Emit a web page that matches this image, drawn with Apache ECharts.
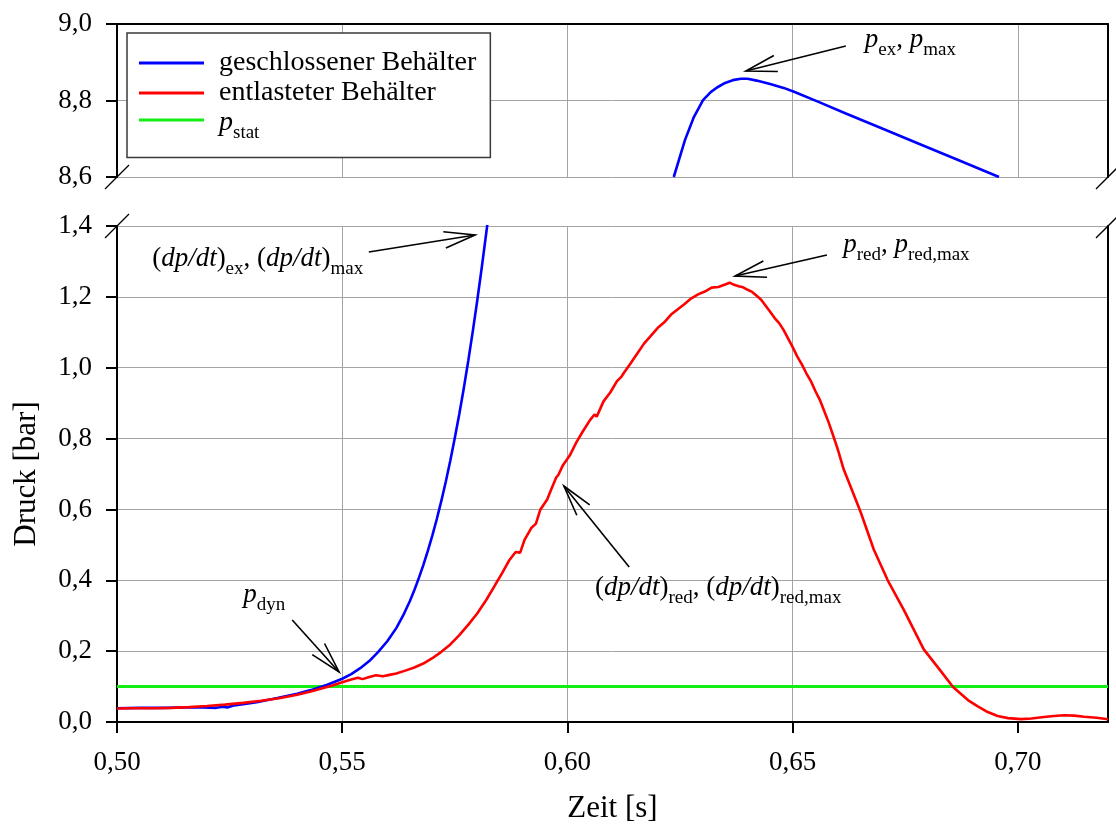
<!DOCTYPE html>
<html>
<head>
<meta charset="utf-8">
<script src="https://cdn.jsdelivr.net/npm/echarts@6/dist/echarts.min.js"></script>
<style>
  html, body { margin: 0; padding: 0; background: #fff; }
  #chart { width: 1116px; height: 825px; }
</style>
</head>
<body>
<div id="chart"></div>
<script>
// Druckverlauf: geschlossener vs. entlasteter Behälter (gebrochene Druckachse)

const timeTicks = [0.50, 0.55, 0.60, 0.65, 0.70];
const lowPressureTicks = [0.0, 0.2, 0.4, 0.6, 0.8, 1.0, 1.2, 1.4];
const highPressureTicks = [8.6, 8.8, 9.0];

// geschlossener Behälter, unterer Bereich (bis 1,4 bar)
const closedLow = [
  [0.500, 0.039], [0.505, 0.040], [0.510, 0.040], [0.515, 0.041], [0.519, 0.041],
  [0.522, 0.040], [0.5235, 0.043], [0.5245, 0.041], [0.526, 0.047], [0.528, 0.050],
  [0.531, 0.056], [0.5356, 0.068], [0.540, 0.080], [0.543, 0.090], [0.5467, 0.105],
  [0.550, 0.122], [0.552, 0.135], [0.554, 0.152], [0.556, 0.172], [0.558, 0.198],
  [0.560, 0.228], [0.562, 0.265], [0.5635, 0.300], [0.565, 0.341], [0.566, 0.372],
  [0.567, 0.406], [0.568, 0.443], [0.569, 0.483], [0.570, 0.526], [0.571, 0.573],
  [0.572, 0.624], [0.573, 0.679], [0.574, 0.738], [0.575, 0.802], [0.576, 0.870],
  [0.577, 0.943], [0.578, 1.021], [0.579, 1.104], [0.580, 1.192], [0.581, 1.285],
  [0.582, 1.383], [0.5822, 1.403]
];

// geschlossener Behälter, oberer Bereich (ab 8,6 bar)
const closedHigh = [
  [0.6236, 8.600], [0.6261, 8.697], [0.6280, 8.755], [0.6301, 8.801], [0.6318, 8.822],
  [0.6332, 8.834], [0.6350, 8.846], [0.6370, 8.854], [0.6385, 8.857], [0.6400, 8.857],
  [0.6420, 8.852], [0.6450, 8.843], [0.6480, 8.833], [0.6503, 8.823], [0.6560, 8.795],
  [0.6618, 8.766], [0.6700, 8.726], [0.6776, 8.689], [0.6870, 8.643], [0.6958, 8.600]
];

// entlasteter Behälter
const vented = [
  [0.500, 0.038], [0.504, 0.039], [0.508, 0.039], [0.512, 0.040], [0.516, 0.042],
  [0.520, 0.045], [0.524, 0.049], [0.528, 0.054], [0.532, 0.060], [0.536, 0.067],
  [0.540, 0.077], [0.543, 0.086], [0.546, 0.097], [0.548, 0.104], [0.550, 0.112],
  [0.552, 0.120], [0.5535, 0.125], [0.5545, 0.121], [0.556, 0.127], [0.5575, 0.132],
  [0.559, 0.129], [0.5605, 0.133], [0.562, 0.137], [0.564, 0.145], [0.566, 0.154],
  [0.568, 0.165], [0.570, 0.180], [0.572, 0.198], [0.574, 0.219], [0.576, 0.245],
  [0.578, 0.275], [0.580, 0.307], [0.582, 0.345], [0.584, 0.388], [0.5855, 0.420],
  [0.587, 0.455], [0.5885, 0.480], [0.5895, 0.478], [0.5905, 0.515], [0.592, 0.548],
  [0.593, 0.560], [0.594, 0.600], [0.5955, 0.628], [0.5965, 0.660], [0.5975, 0.690],
  [0.598, 0.698], [0.599, 0.725], [0.6005, 0.752], [0.602, 0.790], [0.6035, 0.822],
  [0.605, 0.852], [0.606, 0.868], [0.6065, 0.862], [0.608, 0.905], [0.6095, 0.930],
  [0.611, 0.962], [0.612, 0.975], [0.6125, 0.985], [0.614, 1.012], [0.6155, 1.040],
  [0.617, 1.068], [0.6185, 1.090], [0.620, 1.112], [0.6215, 1.128], [0.623, 1.150],
  [0.6245, 1.165], [0.626, 1.180], [0.6275, 1.196], [0.629, 1.207], [0.6305, 1.215],
  [0.632, 1.226], [0.6335, 1.228], [0.635, 1.235], [0.636, 1.240], [0.637, 1.234],
  [0.638, 1.230], [0.639, 1.227], [0.640, 1.220], [0.641, 1.214], [0.642, 1.203],
  [0.643, 1.192], [0.644, 1.175], [0.645, 1.158], [0.646, 1.140], [0.647, 1.126],
  [0.648, 1.106], [0.649, 1.082], [0.650, 1.058], [0.651, 1.032], [0.652, 1.010],
  [0.653, 0.985], [0.654, 0.963], [0.655, 0.935], [0.656, 0.910], [0.657, 0.878],
  [0.658, 0.845], [0.659, 0.808], [0.660, 0.770], [0.6613, 0.714], [0.663, 0.660],
  [0.6651, 0.592], [0.668, 0.487], [0.6711, 0.400], [0.6747, 0.316], [0.677, 0.258],
  [0.6791, 0.205], [0.6822, 0.155], [0.6856, 0.099], [0.6889, 0.062], [0.691, 0.045],
  [0.6933, 0.028], [0.6955, 0.017], [0.6978, 0.011], [0.7007, 0.008], [0.703, 0.010],
  [0.7058, 0.014], [0.708, 0.017], [0.7102, 0.019], [0.7125, 0.018], [0.7147, 0.015],
  [0.7175, 0.012], [0.720, 0.008]
];

// statischer Ansprechdruck der Entlastung
const staticPressure = [[0.50, 0.1], [0.72, 0.1]];

const seriesNames = ['geschlossener Behälter', 'entlasteter Behälter', 'p_stat'];

// Beschriftungen mit Pfeil: Pfeilspitze, Pfeilende, Textanker (Datenkoordinaten)
const notes = [
  { panel: 'top', tip: [0.6396, 8.877], tail: [0.6618, 8.9425], at: [0.6660, 8.958],
    text: '{i|p}{s|ex}{n|, }{i|p}{s|max}' },
  { panel: 'low', tip: [0.5795, 1.3745], tail: [0.5559, 1.3266], at: [0.5078, 1.307],
    text: '{n|(}{i|dp/dt}{n|)}{s|ex}{n|, (}{i|dp/dt}{n|)}{s|max}' },
  { panel: 'low', tip: [0.6372, 1.2588], tail: [0.6576, 1.3181], at: [0.6612, 1.346],
    text: '{i|p}{s|red}{n|, }{i|p}{s|red,max}' },
  { panel: 'low', tip: [0.5992, 0.6661], tail: [0.6137, 0.4375], at: [0.6061, 0.378],
    text: '{n|(}{i|dp/dt}{n|)}{s|red}{n|, (}{i|dp/dt}{n|)}{s|red,max}' },
  { panel: 'low', tip: [0.5493, 0.1411], tail: [0.5389, 0.2879], at: [0.5280, 0.3585],
    text: '{i|p}{s|dyn}' }
];

const FONT = 'Liberation Serif';
const GRID_GRAY = '#a4a4a4';
const fmtTime = v => v.toFixed(2).replace('.', ',');
const fmtPressure = v => v.toFixed(1).replace('.', ',');

const chart = echarts.init(document.getElementById('chart'), null, { renderer: 'canvas' });

const blackLine = { show: true, onZero: false, lineStyle: { color: '#000', width: 2 } };
const labelStyle = { fontFamily: FONT, fontSize: 27, color: '#000' };

function frameAxis(gridIndex, min, max) {
  return {
    type: 'value', gridIndex, position: 'right', min, max,
    axisLine: blackLine, axisTick: { show: false }, axisLabel: { show: false },
    splitLine: { show: false }
  };
}

const option = {
  animation: false,
  backgroundColor: '#fff',
  grid: [
    { left: 117, right: 8, top: 24, height: 153, containLabel: false, outerBoundsMode: 'none' },
    { left: 117, right: 8, top: 226, height: 496, containLabel: false, outerBoundsMode: 'none' }
  ],
  xAxis: [
    {
      type: 'value', gridIndex: 0, position: 'top', min: 0.5, max: 0.72, interval: 0.05,
      axisLine: blackLine, axisTick: { show: false }, axisLabel: { show: false },
      splitLine: { show: true, showMinLine: false, showMaxLine: false,
        lineStyle: { color: GRID_GRAY, width: 1 } }
    },
    {
      type: 'value', gridIndex: 1, position: 'bottom', min: 0.5, max: 0.72, interval: 0.05,
      axisLine: blackLine,
      axisTick: { show: true, inside: false, length: 11, customValues: timeTicks,
        lineStyle: { color: '#000', width: 2 } },
      axisLabel: Object.assign({ customValues: timeTicks, formatter: fmtTime, margin: 27 }, labelStyle),
      splitLine: { show: true, showMinLine: false, showMaxLine: false,
        lineStyle: { color: GRID_GRAY, width: 1 } },
      name: 'Zeit [s]', nameLocation: 'middle', nameGap: 71,
      nameTextStyle: { fontFamily: FONT, fontSize: 31, color: '#000' }
    }
  ],
  yAxis: [
    {
      type: 'value', gridIndex: 0, position: 'left', min: 8.6, max: 9.0, interval: 0.2,
      axisLine: blackLine,
      axisTick: { show: true, inside: false, length: 11, customValues: highPressureTicks,
        lineStyle: { color: '#000', width: 2 } },
      axisLabel: Object.assign({ customValues: highPressureTicks, formatter: fmtPressure, margin: 25 }, labelStyle),
      splitLine: { show: true, showMinLine: true, showMaxLine: false,
        lineStyle: { color: GRID_GRAY, width: 1 } }
    },
    frameAxis(0, 8.6, 9.0),
    {
      type: 'value', gridIndex: 1, position: 'left', min: 0, max: 1.4, interval: 0.2,
      axisLine: blackLine,
      axisTick: { show: true, inside: false, length: 11, customValues: lowPressureTicks,
        lineStyle: { color: '#000', width: 2 } },
      axisLabel: Object.assign({ customValues: lowPressureTicks, formatter: fmtPressure, margin: 25 }, labelStyle),
      splitLine: { show: true, showMinLine: false, showMaxLine: true,
        lineStyle: { color: GRID_GRAY, width: 1 } },
      name: 'Druck [bar]', nameLocation: 'middle', nameGap: 75, nameRotate: 90,
      nameTextStyle: { fontFamily: FONT, fontSize: 31, color: '#000' }
    },
    frameAxis(1, 0, 1.4)
  ],
  legend: {
    left: 127, top: 33, orient: 'vertical',
    data: seriesNames, selectedMode: false,
    icon: 'rect', itemWidth: 65, itemHeight: 3, itemGap: 2,
    backgroundColor: '#fff', borderColor: '#3a3a3a', borderWidth: 1.5,
    padding: [16, 14, 15, 12],
    formatter: name => name === 'p_stat' ? '{pi|p}{ps|stat}' : '{t|' + name + '}',
    textStyle: {
      fontFamily: FONT, fontSize: 28, color: '#000',
      rich: {
        t: { fontFamily: FONT, fontSize: 28, color: '#000', padding: [0, 0, 0, 10], lineHeight: 30 },
        pi: { fontFamily: FONT, fontSize: 28, fontStyle: 'italic', color: '#000', padding: [6, 0, 0, 10] },
        ps: { fontFamily: FONT, fontSize: 19, color: '#000', padding: [26, 0, 0, 0] }
      }
    }
  },
  series: [
    { name: 'p_stat', type: 'line', xAxisIndex: 1, yAxisIndex: 2, data: staticPressure,
      color: '#14ee14', symbol: 'none', lineStyle: { color: '#14ee14', width: 3 }, z: 2 },
    { name: 'geschlossener Behälter', type: 'line', xAxisIndex: 1, yAxisIndex: 2, data: closedLow,
      color: '#0000ff', symbol: 'none', lineStyle: { color: '#0000ff', width: 2.6 }, z: 3 },
    { name: 'geschlossener Behälter', type: 'line', xAxisIndex: 0, yAxisIndex: 0, data: closedHigh,
      color: '#0000ff', symbol: 'none', lineStyle: { color: '#0000ff', width: 2.6 }, z: 3 },
    { name: 'entlasteter Behälter', type: 'line', xAxisIndex: 1, yAxisIndex: 2, data: vented,
      color: '#ff0000', symbol: 'none', lineStyle: { color: '#ff0000', width: 2.6 }, z: 4 }
  ]
};

chart.setOption(option);

// Pfeile, Beschriftungen und Achsenbruch-Markierungen in Pixelkoordinaten umrechnen
const toPx = (panel, p) => panel === 'top'
  ? chart.convertToPixel({ xAxisIndex: 0, yAxisIndex: 0 }, p)
  : chart.convertToPixel({ xAxisIndex: 1, yAxisIndex: 2 }, p);

const noteRich = {
  n: { fontFamily: FONT, fontSize: 27, fill: '#000' },
  i: { fontFamily: FONT, fontSize: 27, fontStyle: 'italic', fill: '#000' },
  s: { fontFamily: FONT, fontSize: 19, fill: '#000', padding: [20, 0, 0, 0] }
};

const graphics = [];
const HEAD_LEN = 32, HEAD_ANGLE = 15 * Math.PI / 180;
notes.forEach(nt => {
  const tip = toPx(nt.panel, nt.tip);
  const tail = toPx(nt.panel, nt.tail);
  const ang = Math.atan2(tail[1] - tip[1], tail[0] - tip[0]);
  const w1 = [tip[0] + HEAD_LEN * Math.cos(ang + HEAD_ANGLE), tip[1] + HEAD_LEN * Math.sin(ang + HEAD_ANGLE)];
  const w2 = [tip[0] + HEAD_LEN * Math.cos(ang - HEAD_ANGLE), tip[1] + HEAD_LEN * Math.sin(ang - HEAD_ANGLE)];
  graphics.push({ type: 'line', z: 10, shape: { x1: tail[0], y1: tail[1], x2: tip[0], y2: tip[1] },
    style: { stroke: '#000', lineWidth: 1.6 } });
  graphics.push({ type: 'polyline', z: 10, shape: { points: [w1, tip, w2] },
    style: { stroke: '#000', lineWidth: 1.6, fill: null } });
  const at = toPx(nt.panel, nt.at);
  graphics.push({ type: 'text', z: 10, x: at[0], y: at[1],
    style: { text: nt.text, rich: noteRich, align: 'left', verticalAlign: 'middle', fill: '#000' } });
});

// Achsenbruch: Schrägstriche links und rechts an beiden Rändern der Lücke
const breakPoints = [
  toPx('top', [0.5, 8.6]), toPx('top', [0.72, 8.6]),
  toPx('low', [0.5, 1.4]), toPx('low', [0.72, 1.4])
];
breakPoints.forEach(p => {
  graphics.push({ type: 'line', z: 10,
    shape: { x1: p[0] - 12, y1: p[1] + 12, x2: p[0] + 12, y2: p[1] - 12 },
    style: { stroke: '#000', lineWidth: 1.3 } });
});

chart.setOption({ graphic: graphics });
</script>
</body>
</html>
